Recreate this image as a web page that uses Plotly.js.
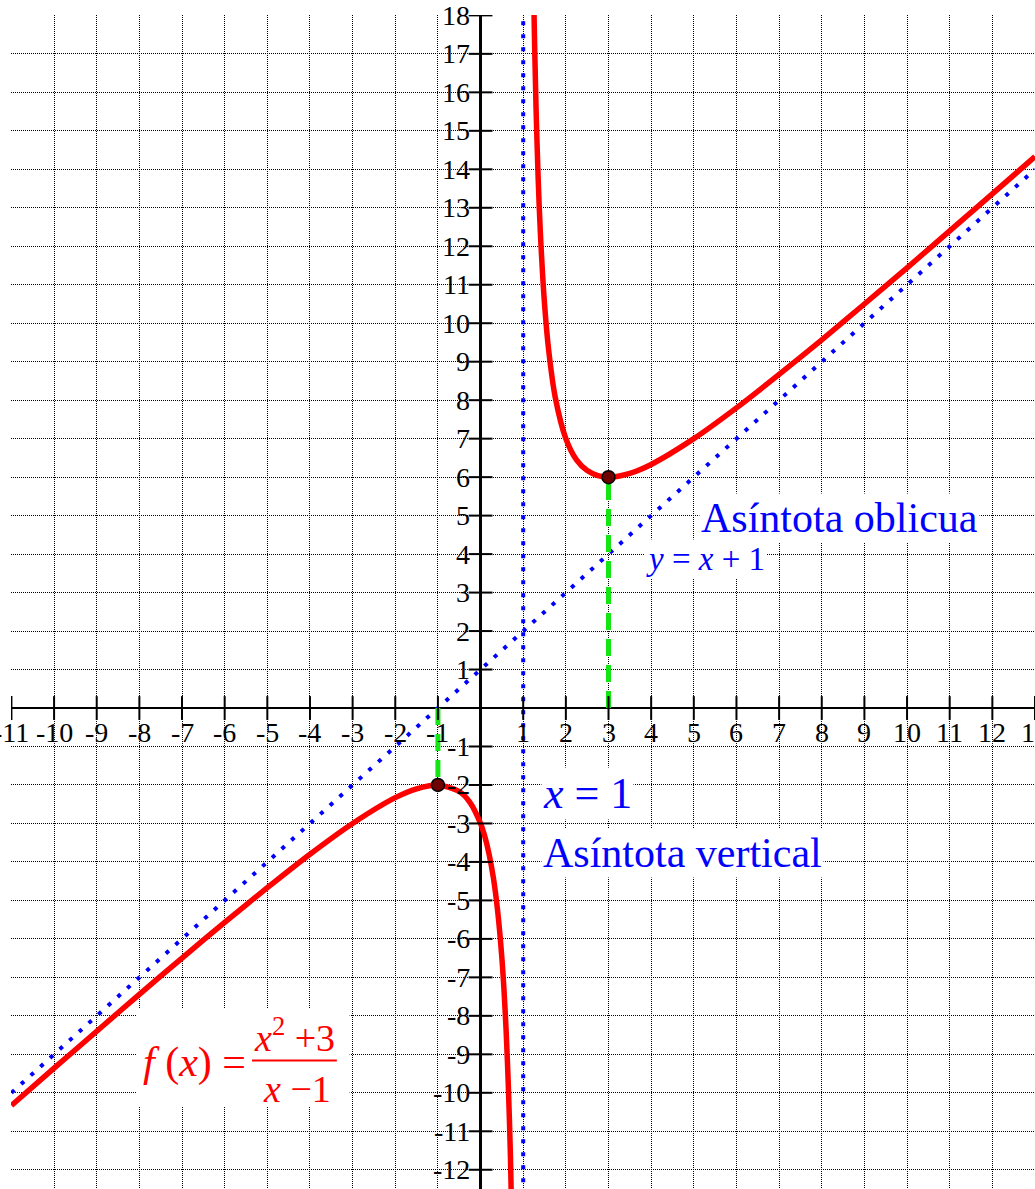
<!DOCTYPE html>
<html>
<head>
<meta charset="utf-8">
<script src="https://cdn.plot.ly/plotly-3.0.1.min.js"></script>
<style>
  body { margin: 0; background: white; }
  #myDiv { width: 1035px; height: 1189px; }
</style>
</head>
<body>
<div id="myDiv"></div>
<script>
// f(x) = (x^2+3)/(x-1)
var leftX = [-11, -10, -9, -8, -7, -6, -5, -4, -3, -2, -1.5, -1, -0.5, -0.25, 0, 0.1, 0.2, 0.3, 0.4, 0.5, 0.55, 0.6, 0.65, 0.7, 0.75];
var leftY = [-10.33, -9.36, -8.4, -7.44, -6.5, -5.57, -4.67, -3.8, -3.0, -2.33, -2.1, -2, -2.17, -2.45, -3, -3.34, -3.8, -4.41, -5.27, -6.5, -7.34, -8.4, -9.78, -11.63, -14.25];
var rightX = [1.2, 1.25, 1.3, 1.35, 1.4, 1.5, 1.6, 1.75, 2, 2.25, 2.5, 2.75, 3, 3.5, 4, 5, 6, 7, 8, 9, 10, 11, 12, 13];
var rightY = [22.2, 18.25, 15.63, 13.78, 12.4, 10.5, 9.27, 8.08, 7, 6.45, 6.17, 6.04, 6, 6.1, 6.33, 7, 7.8, 8.67, 9.57, 10.5, 11.44, 12.4, 13.36, 14.33];

// asymptotes
var obliqueX = [-11, 13];
var obliqueY = [-10, 14];
var verticalX = [1, 1];
var verticalY = [-13, 19];

// extrema and their guide lines
var extremaX = [-1, 3];
var extremaY = [-2, 6];

// tick labels
var xTicks = [-11, -10, -9, -8, -7, -6, -5, -4, -3, -2, -1, 1, 2, 3, 4, 5, 6, 7, 8, 9, 10, 11, 12, 13];
var yTicks = [-12, -11, -10, -9, -8, -7, -6, -5, -4, -3, -2, -1, 1, 2, 3, 4, 5, 6, 7, 8, 9, 10, 11, 12, 13, 14, 15, 16, 17, 18];

var serif = 'Liberation Serif, Times New Roman, serif';
var blue = '#0000ff';
var red = '#ff0000';
var green = '#14e614';

var data = [
  {x: obliqueX, y: obliqueY, mode: 'lines', line: {color: blue, width: 4, dash: '4px,9px'}, hoverinfo: 'skip'},
  {x: verticalX, y: verticalY, mode: 'lines', line: {color: blue, width: 4, dash: '4px,9px'}, hoverinfo: 'skip'},
  {x: leftX, y: leftY, mode: 'lines', line: {color: red, width: 5.5, shape: 'spline', smoothing: 0.8}},
  {x: rightX, y: rightY, mode: 'lines', line: {color: red, width: 5.5, shape: 'spline', smoothing: 0.8}},
  {x: [extremaX[0], extremaX[0]], y: [0, extremaY[0]], mode: 'lines', line: {color: green, width: 5, dash: '17px,9px'}, hoverinfo: 'skip'},
  {x: [extremaX[1], extremaX[1]], y: [0, extremaY[1]], mode: 'lines', line: {color: green, width: 5, dash: '17px,9px'}, hoverinfo: 'skip'},
  // axis tick marks crossing the axes
  {x: xTicks, y: xTicks.map(function () { return 0; }), mode: 'markers', hoverinfo: 'skip',
   marker: {symbol: 'line-ns-open', size: 17, color: 'black', line: {width: 2, color: 'black'}}},
  {x: yTicks.map(function () { return 0; }), y: yTicks, mode: 'markers', hoverinfo: 'skip',
   marker: {symbol: 'line-ew-open', size: 17, color: 'black', line: {width: 2, color: 'black'}}},
  {x: extremaX, y: extremaY, mode: 'markers', cliponaxis: false,
   marker: {size: 13, color: '#6e0000', line: {width: 1.5, color: 'black'}}}
];

var tickFont = {family: serif, size: 28, color: 'black'};
var annotations = [];
xTicks.forEach(function (v) {
  annotations.push({x: v, y: 0, xref: 'x', yref: 'y', text: String(v), showarrow: false,
    yshift: -24, font: tickFont});
});
yTicks.forEach(function (v) {
  annotations.push({x: 0, y: v, xref: 'x', yref: 'y', text: String(v), showarrow: false,
    xanchor: 'right', xshift: -9, font: tickFont});
});

var bigBlue = {family: serif, size: 42, color: blue};
annotations.push(
  {x: 8.41, y: 4.95, text: 'Asíntota oblicua', showarrow: false, font: bigBlue, bgcolor: 'white'},
  {x: 5.27, y: 3.88, text: '<i>y</i> = <i>x</i> + 1', showarrow: false,
   font: {family: serif, size: 33, color: blue}, bgcolor: 'white'},
  {x: 2.51, y: -2.22, text: '<i>x</i> = 1', showarrow: false,
   font: {family: serif, size: 44, color: blue}, bgcolor: 'white'},
  {x: 4.73, y: -3.78, text: 'Asíntota vertical', showarrow: false, font: bigBlue, bgcolor: 'white'},
  {x: -6.7, y: -9.2, text: '<i>f</i> (<i>x</i>) =', showarrow: false,
   font: {family: serif, size: 42, color: red}},
  {x: -4.36, y: -8.5, text: '<i>x</i><sup>2</sup> +3', showarrow: false,
   font: {family: serif, size: 38, color: red}},
  {x: -4.31, y: -9.9, text: '<i>x</i> −1', showarrow: false,
   font: {family: serif, size: 38, color: red}}
);

var axisBase = {
  showgrid: true, dtick: 1, tick0: 0,
  gridcolor: '#000', gridwidth: 1, griddash: '1px,1px',
  zeroline: true, zerolinecolor: 'black', zerolinewidth: 2.5,
  showticklabels: false, ticks: '', showline: false, fixedrange: true
};

var layout = {
  width: 1035,
  height: 1189,
  margin: {l: 11, r: 0, t: 15, b: 0},
  paper_bgcolor: 'white',
  plot_bgcolor: 'white',
  showlegend: false,
  xaxis: Object.assign({}, axisBase, {range: [-11.01, 13]}),
  yaxis: Object.assign({}, axisBase, {range: [-12.5, 18.01]}),
  annotations: annotations,
  shapes: [
    {type: 'rect', xref: 'x', yref: 'y', x0: -8.06, x1: -3.07, y0: -10.35, y1: -7.8,
     fillcolor: 'white', line: {width: 0}, layer: 'between'},
    {type: 'line', xref: 'x', yref: 'y', x0: -5.36, x1: -3.37, y0: -9.16, y1: -9.16,
     line: {color: red, width: 2}, layer: 'above'}
  ]
};

Plotly.newPlot('myDiv', data, layout, {displayModeBar: false, staticPlot: true});
</script>
</body>
</html>
